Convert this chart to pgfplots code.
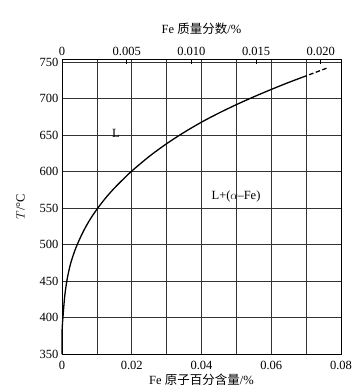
\documentclass[border=0pt]{standalone}
\usepackage{pgfplots}
\pgfplotsset{compat=1.18}
\usepackage{fontspec}
\setmainfont{Liberation Serif}
\newfontfamily\cjk{Noto Sans CJK SC}
\begin{document}
\begin{tikzpicture}
\pgfplotsset{every axis/.append style={
  scale only axis, width=279pt, height=295pt,
  scaled ticks=false,
  tick label style={font=\fontsize{12.5}{14}\selectfont},
  label style={font=\fontsize{12.5}{14}\selectfont},
}}
\begin{axis}[
  xmin=0, xmax=0.08, ymin=350, ymax=754,
  xtick={0,0.01,0.02,0.03,0.04,0.05,0.06,0.07,0.08},
  xticklabels={0,,0.02,,0.04,,0.06,,0.08},
  ytick={350,400,450,500,550,600,650,700,750},
  yticklabels={350,400,450,500,550,600,650,700,750},
  xtick pos=bottom, ytick pos=left,
  major tick length=0pt,
  xticklabel style={yshift=-4pt},
  grid=major, grid style={black!80, line width=0.6pt},
  axis line style={black, line width=0.8pt},
  xlabel={Fe {\cjk 原子百分含量}/\%},
  ylabel={$T$/\textdegree C},
  xlabel style={yshift=3pt},
  ylabel style={yshift=8pt},
  clip=false,
]
\addplot[black, line width=1.3pt, smooth, tension=0.5] coordinates {
  (0,350) (0,368) (0.00005,385) (0.0003,402) (0.0008,430) (0.0015,453)
  (0.0025,474.4) (0.004,495.6) (0.006,516.8) (0.008,533.9) (0.01,548.1)
  (0.0125,563.6) (0.015,577.1) (0.0175,589.1) (0.02,600.5) (0.025,620.5)
  (0.03,638) (0.035,653.5) (0.04,667.5) (0.045,680) (0.05,691.5)
  (0.055,702.2) (0.06,712.3) (0.065,721.9) (0.069,729.1)
};
\addplot[black, line width=1.3pt, dash pattern=on 4.5pt off 2.5pt] coordinates {
  (0.069,729.1) (0.0764,742.3)
};
\node[font=\fontsize{12.5}{14}\selectfont] at (axis cs:0.0155,652) {L};
\node[font=\fontsize{12.5}{14}\selectfont] at (axis cs:0.0499,566) {L+($\alpha$\kern-0.5pt--Fe)};
\end{axis}
\begin{axis}[
  xmin=0, xmax=0.021562, ymin=350, ymax=754,
  axis x line*=top, hide y axis,
  xtick={0,0.005,0.010,0.015,0.020},
  xticklabels={0,0.005,0.010,0.015,0.020},
  tick align=inside, major tick length=5pt,
  x tick style={black, line width=0.6pt},
  axis line style={black, line width=0.8pt},
  xlabel={Fe {\cjk 质量分数}/\%},
  xlabel style={yshift=6pt},
]
\end{axis}
\path ([shift={(-62pt,-37pt)}]current axis.south west) -- ([shift={(19pt,59pt)}]current axis.north east);
\end{tikzpicture}
\end{document}
